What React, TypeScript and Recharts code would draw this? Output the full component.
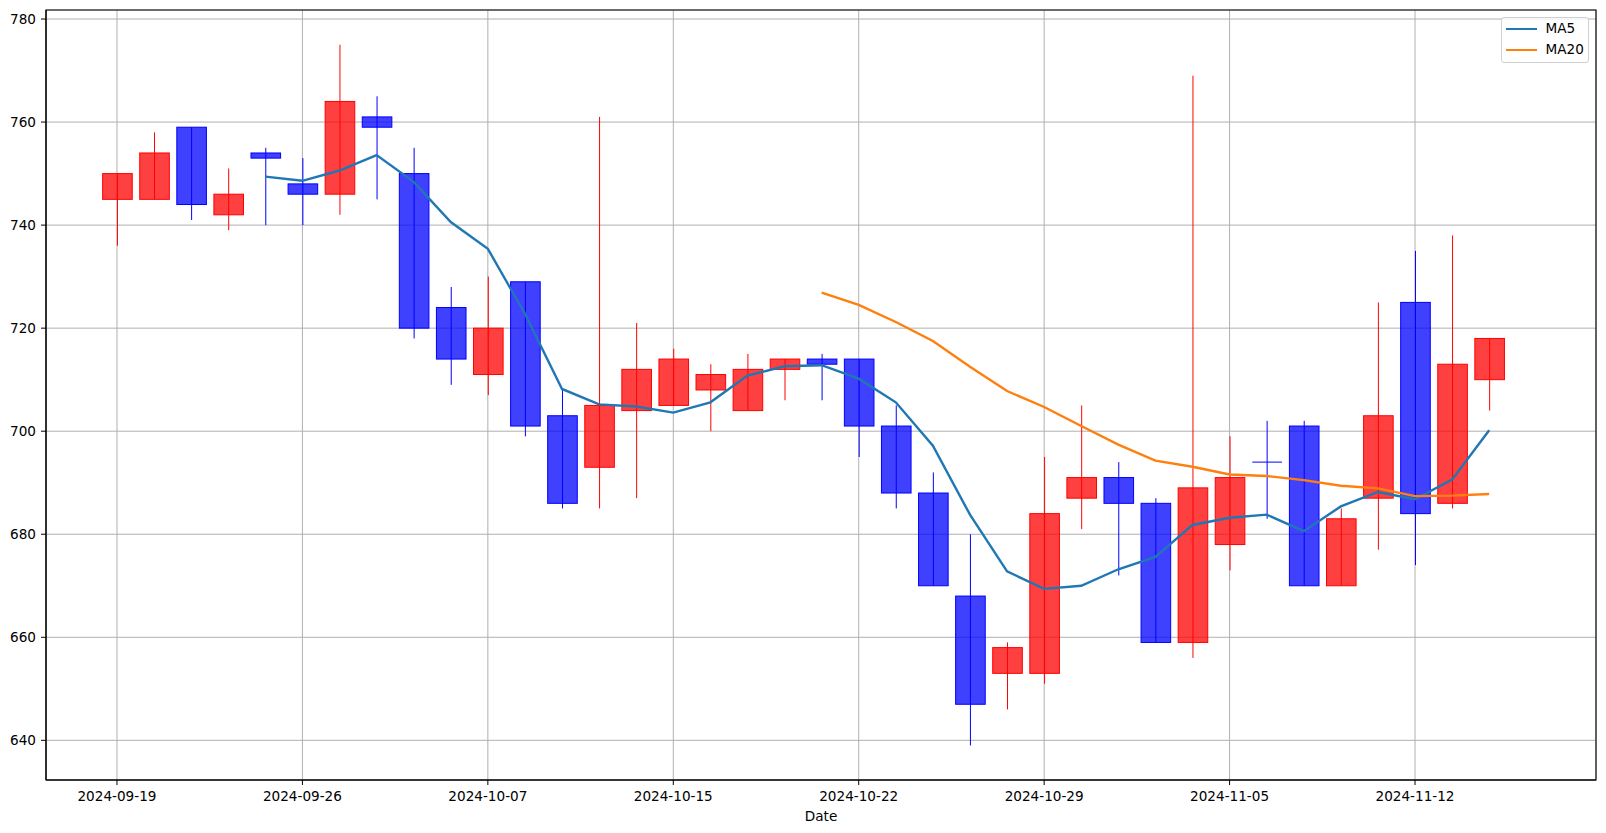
import React from 'react'
import {
  ComposedChart,
  Bar,
  Line,
  XAxis,
  YAxis,
  CartesianGrid,
  ReferenceArea,
} from 'recharts'

// trading days (TWSE calendar)
const dates = [
  '2024-09-19', '2024-09-20', '2024-09-23', '2024-09-24', '2024-09-25', '2024-09-26', '2024-09-27', '2024-09-30',
  '2024-10-01', '2024-10-04', '2024-10-07', '2024-10-08', '2024-10-09', '2024-10-11', '2024-10-14', '2024-10-15',
  '2024-10-16', '2024-10-17', '2024-10-18', '2024-10-21', '2024-10-22', '2024-10-23', '2024-10-24', '2024-10-25',
  '2024-10-28', '2024-10-29', '2024-10-30', '2024-10-31', '2024-11-01', '2024-11-04', '2024-11-05', '2024-11-06',
  '2024-11-07', '2024-11-08', '2024-11-11', '2024-11-12', '2024-11-13', '2024-11-14',
]

const opens = [745, 745, 759, 742, 754, 748, 746, 761, 750, 724, 711, 729, 703, 693, 704, 705, 708, 704, 712, 714, 714, 701, 688, 668, 653, 653, 687, 691, 686, 659, 678, 694, 701, 670, 687, 725, 686, 710]
const highs = [750, 758, 759, 751, 755, 753, 775, 765, 755, 728, 730, 729, 708, 761, 721, 716, 713, 715, 714, 715, 714, 705, 692, 680, 659, 695, 705, 694, 687, 769, 699, 702, 702, 685, 725, 735, 738, 718]
const lows = [736, 745, 741, 739, 740, 740, 742, 745, 718, 709, 707, 699, 685, 685, 687, 705, 700, 704, 706, 706, 695, 685, 670, 639, 646, 651, 681, 672, 659, 656, 673, 683, 670, 670, 677, 674, 685, 704]
const closes = [750, 754, 744, 746, 753, 746, 764, 759, 720, 714, 720, 701, 686, 705, 712, 714, 711, 712, 714, 713, 701, 688, 670, 647, 658, 684, 691, 686, 659, 689, 691, 694, 670, 683, 703, 684, 713, 718]

const ma5 = [
  null, null, null, null,
  749.4, 748.6, 750.6, 753.6, 748.4, 740.6, 735.4, 722.8, 708.2, 705.2, 704.8, 703.6, 705.6, 710.8, 712.6, 712.8,
  710.2, 705.6, 697.2, 683.8, 672.8, 669.4, 670.0, 673.2, 675.6, 681.8, 683.2, 683.8, 680.6, 685.4, 688.2, 686.8,
  690.6, 700.2,
]
const ma20 = [
  null, null, null, null, null, null, null, null, null, null, null, null, null, null, null, null, null, null, null,
  726.9, 724.5, 721.2, 717.5, 712.5, 707.8, 704.7, 701.0, 697.4, 694.3, 693.1, 691.6, 691.3, 690.5, 689.4, 688.9,
  687.4, 687.5, 687.8,
]

const xTicks = [0, 5, 10, 15, 20, 25, 30, 35]
const yTicks = [640, 660, 680, 700, 720, 740, 760, 780]

const X_DOMAIN: [number, number] = [-1.914, 39.88]
const Y_DOMAIN: [number, number] = [632.3, 781.75]

const UP = '#ff0000'
const DOWN = '#0000ff'
const FONT = '"DejaVu Sans", sans-serif'

const data = dates.map((d, i) => ({
  idx: i,
  date: d,
  open: opens[i],
  high: highs[i],
  low: lows[i],
  close: closes[i],
  range: [lows[i], highs[i]],
  ma5: ma5[i],
  ma20: ma20[i],
}))

function Candle(props: any) {
  const { x, y, width, height, payload } = props
  if (!payload || height == null) return null
  const top = Math.min(y, y + height)
  const h = Math.abs(height)
  const { open, close, high, low } = payload
  const ppu = h / (high - low)
  const yOf = (v: number) => top + (high - v) * ppu
  const cx = x + width / 2
  const color = close > open ? UP : DOWN
  const bw = 29.6
  const bTop = yOf(Math.max(open, close))
  const bBot = yOf(Math.min(open, close))
  return (
    <g>
      <line x1={cx} x2={cx} y1={yOf(high)} y2={yOf(low)} stroke={color} strokeWidth={1} />
      {bBot - bTop < 0.5 ? (
        <line x1={cx - bw / 2} x2={cx + bw / 2} y1={bTop} y2={bTop} stroke={color} strokeWidth={1} />
      ) : (
        <rect
          x={cx - bw / 2}
          y={bTop}
          width={bw}
          height={bBot - bTop}
          fill={color}
          fillOpacity={0.75}
          stroke={color}
          strokeWidth={1}
        />
      )}
    </g>
  )
}

function DateLabel(props: any) {
  const vb = props.viewBox || {}
  return (
    <text x={vb.x + vb.width / 2} y={vb.y + 40.5} textAnchor="middle" fontSize={13.6} fontFamily={FONT} fill="#000">
      Date
    </text>
  )
}

function LegendBox() {
  const row = (label: string, color: string, top: number) => (
    <div style={{ position: 'absolute', left: 0, top, height: 0 }}>
      <div style={{ position: 'absolute', left: 4.5, top: -1.2, width: 31, height: 2.4, background: color }} />
      <div style={{ position: 'absolute', left: 44, top: -8.5, fontSize: 13.6, lineHeight: '16px', whiteSpace: 'nowrap' }}>
        {label}
      </div>
    </div>
  )
  return (
    <div
      style={{
        position: 'absolute',
        left: 1500.5,
        top: 17.3,
        width: 88.5,
        height: 46,
        border: '1px solid #d0d0d0',
        borderRadius: 3,
        background: 'rgba(255,255,255,0.8)',
        boxSizing: 'border-box',
        fontFamily: FONT,
        color: '#000',
      }}
    >
      {row('MA5', '#1f77b4', 10.5)}
      {row('MA20', '#ff7f0e', 31.5)}
    </div>
  )
}

export default function App() {
  return (
    <div style={{ position: 'absolute', left: 0, top: 0, width: 1606, height: 833, background: '#fff' }}>
      <ComposedChart width={1606} height={833} data={data} margin={{ top: 10, right: 10, bottom: 0, left: 0 }}>
        <CartesianGrid stroke="#b0b0b0" strokeWidth={1} />
        <XAxis
          dataKey="idx"
          type="number"
          domain={X_DOMAIN}
          allowDataOverflow
          ticks={xTicks}
          interval={0}
          tickFormatter={(v) => dates[v] ?? ''}
          height={53}
          tickSize={5}
          tickMargin={6}
          stroke="#000"
          tick={{ fontSize: 13.6, fontFamily: FONT, fill: '#000' }}
          label={<DateLabel />}
        />
        <YAxis
          type="number"
          domain={Y_DOMAIN}
          allowDataOverflow
          ticks={yTicks}
          interval={0}
          width={46}
          tickSize={5}
          tickMargin={5}
          stroke="#000"
          tick={{ fontSize: 13.6, fontFamily: FONT, fill: '#000' }}
        />
        <Bar dataKey="range" barSize={30} shape={<Candle />} isAnimationActive={false} />
        <Line
          dataKey="ma5"
          stroke="#1f77b4"
          strokeWidth={2.4}
          dot={false}
          activeDot={false}
          connectNulls={false}
          isAnimationActive={false}
        />
        <Line
          dataKey="ma20"
          stroke="#ff7f0e"
          strokeWidth={2.4}
          dot={false}
          activeDot={false}
          connectNulls={false}
          isAnimationActive={false}
        />
        <ReferenceArea
          x1={X_DOMAIN[0]}
          x2={X_DOMAIN[1]}
          y1={Y_DOMAIN[0]}
          y2={Y_DOMAIN[1]}
          fill="none"
          stroke="#000"
          strokeWidth={1.1}
          ifOverflow="visible"
        />
      </ComposedChart>
      <LegendBox />
    </div>
  )
}
